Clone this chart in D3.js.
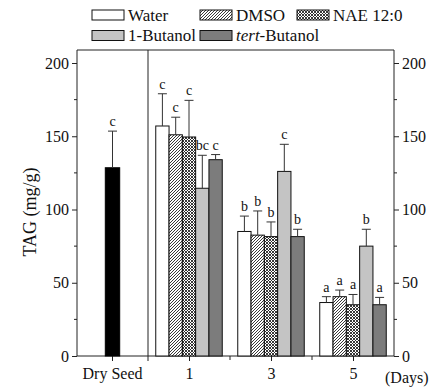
<!DOCTYPE html>
<html><head><meta charset="utf-8">
<script src="https://cdn.jsdelivr.net/npm/d3@7"></script>
<style>body{margin:0;background:#fff}svg{display:block}svg text{font-family:'Liberation Serif','Times New Roman','DejaVu Serif',serif !important;fill:#111}</style>
</head><body><svg id="c" width="442" height="392" font-family="Liberation Serif, Times New Roman, serif"></svg>
<script>
const days = [1, 3, 5];
const series = ["Water", "DMSO", "NAE 12:0", "1-Butanol", "tert-Butanol"];
const waterVals = [157, 85, 36.5];
const waterErr = [22, 10.5, 4];
const dmsoVals = [151, 82.5, 40.5];
const dmsoErr = [12, 16.5, 4.5];
const naeVals = [149.5, 81.5, 35];
const naeErr = [25, 10, 7];
const butanolVals = [114.5, 126, 75];
const butanolErr = [22.5, 18.5, 11.5];
const tertVals = [134, 81.5, 35];
const tertErr = [3.5, 5, 5];
const letters = [["c","b","a"],["c","b","a"],["c","b","a"],["bc","c","b"],["c","b","a"]];
const dryLabel = "Dry Seed", dryVal = 128.5, dryErr = 25, dryLetter = "c";
const yTicks = [0, 50, 100, 150, 200];
const yMinor = [25, 75, 125, 175];
const dayMinor = [2, 4];

const vals = [waterVals, dmsoVals, naeVals, butanolVals, tertVals];
const errs = [waterErr, dmsoErr, naeErr, butanolErr, tertErr];
const fills = ["#ffffff", "url(#hatch)", "url(#cross)", "#c4c4c4", "#7c7c7c"];
const FONT = "'Liberation Serif','Times New Roman','DejaVu Serif',serif";

const svg = d3.select("#c");
const L = 77, R = 394, T = 50, B = 356, SEP = 148;
const y = d3.scaleLinear().domain([0, 200]).range([B, 63]);
const xd = d3.scaleLinear().domain([0, 6]).range([SEP, R]);
const xl = d3.scaleBand().domain([dryLabel]).range([L, SEP]).paddingInner(0);
const bw = 13.3;
const xs = d3.scaleBand().domain(series).range([-2.5 * bw, 2.5 * bw]).paddingInner(0);

const defs = svg.append("defs");
const h = defs.append("pattern").attr("id", "hatch").attr("patternUnits", "userSpaceOnUse").attr("width", 3).attr("height", 3);
h.append("rect").attr("width", 3).attr("height", 3).attr("fill", "#fff");
h.append("path").attr("d", "M-1,1 L1,-1 M0,3 L3,0 M2,4 L4,2").attr("stroke", "#222").attr("stroke-width", 0.9);
const c = defs.append("pattern").attr("id", "cross").attr("patternUnits", "userSpaceOnUse").attr("width", 3).attr("height", 3);
c.append("rect").attr("width", 3).attr("height", 3).attr("fill", "#fff");
c.append("path").attr("d", "M0,0 L3,3 M3,0 L0,3").attr("stroke", "#222").attr("stroke-width", 0.9);

const ink = "#222";
svg.append("line").attr("x1", L).attr("x2", R).attr("y1", T).attr("y2", T).attr("stroke", ink);
svg.append("line").attr("x1", SEP).attr("x2", SEP).attr("y1", T).attr("y2", B).attr("stroke", ink);

const gl = svg.append("g").attr("transform", `translate(${L},0)`)
  .call(d3.axisLeft(y).tickValues(yTicks).tickSize(5).tickSizeOuter(0).tickPadding(3));
gl.selectAll(".domain").attr("d", `M0,${B}V${T}`);
gl.append("g").selectAll("line").data(yMinor).join("line").attr("x1", -3).attr("x2", 0).attr("y1", d => y(d)).attr("y2", d => y(d)).attr("stroke", ink);
const gr = svg.append("g").attr("transform", `translate(${R},0)`)
  .call(d3.axisRight(y).tickValues(yTicks).tickSize(5).tickSizeOuter(0).tickPadding(3));
gr.selectAll(".domain").attr("d", `M0,${B}V${T}`);
gr.append("g").selectAll("line").data(yMinor).join("line").attr("x1", 0).attr("x2", 3).attr("y1", d => y(d)).attr("y2", d => y(d)).attr("stroke", ink);

svg.append("line").attr("x1", L).attr("x2", R).attr("y1", B).attr("y2", B).attr("stroke", ink);
const gb = svg.append("g").attr("transform", `translate(0,${B})`)
  .call(d3.axisBottom(xd).tickValues(days).tickFormat(d3.format("d")).tickSize(5).tickSizeOuter(0).tickPadding(7));
gb.select(".domain").remove();
gb.append("g").selectAll("line").data(dayMinor).join("line").attr("x1", d => xd(d)).attr("x2", d => xd(d)).attr("y1", 0).attr("y2", 4).attr("stroke", ink);
const gd = svg.append("g").attr("transform", `translate(0,${B})`)
  .call(d3.axisBottom(xl).tickSize(5).tickSizeOuter(0).tickPadding(7));
gd.select(".domain").remove();
svg.append("line").attr("x1", SEP).attr("x2", SEP).attr("y1", B).attr("y2", B + 5).attr("stroke", ink);
[gl, gr, gb, gd].forEach(g => {
  g.attr("font-family", FONT).attr("font-size", 16);
  g.selectAll("text").attr("fill", "#111");
  g.selectAll("path,line").attr("stroke", ink);
});
svg.append("text").attr("x", xd(5) + 32).attr("y", B + 27).attr("font-size", 16).text("(Days)");

svg.append("text").attr("transform", `translate(36,${(T + B) / 2 + 9}) rotate(-90)`).attr("text-anchor", "middle")
  .attr("font-size", 18).text("TAG (mg/g)");

function errBar(cx, v, e, lab) {
  svg.append("line").attr("x1", cx).attr("x2", cx).attr("y1", y(v)).attr("y2", y(v + e)).attr("stroke", "#333");
  svg.append("line").attr("x1", cx - 4.5).attr("x2", cx + 4.5).attr("y1", y(v + e)).attr("y2", y(v + e)).attr("stroke", "#333");
  svg.append("text").attr("x", cx).attr("y", y(v + e) - 5).attr("text-anchor", "middle").attr("font-size", 14).text(lab);
}

const dcx = xl(dryLabel) + xl.bandwidth() / 2;
svg.append("rect").attr("x", dcx - 7.2).attr("width", 14.4).attr("y", y(dryVal)).attr("height", y(0) - y(dryVal)).attr("fill", "#000").attr("stroke", "#000");
errBar(dcx, dryVal, dryErr, dryLetter);

series.forEach((s, si) => {
  days.forEach((d, di) => {
    const x0 = xd(d) + xs(s);
    const v = vals[si][di];
    svg.append("rect").attr("x", x0).attr("width", xs.bandwidth()).attr("y", y(v)).attr("height", y(0) - y(v))
      .attr("fill", fills[si]).attr("stroke", "#111").attr("stroke-width", 1);
  });
});
series.forEach((s, si) => {
  days.forEach((d, di) => {
    errBar(xd(d) + xs(s) + xs.bandwidth() / 2, vals[si][di], errs[si][di], letters[si][di]);
  });
});

const legPos = [[92, 10], [200, 10], [297, 10], [92, 30.5], [200, 30.5]];
series.forEach((s, i) => {
  const [lx, ly] = legPos[i];
  svg.append("rect").attr("x", lx).attr("y", ly).attr("width", 32).attr("height", 10).attr("fill", fills[i]).attr("stroke", "#111");
  const t = svg.append("text").attr("x", lx + 36).attr("y", ly + 10.5).attr("font-size", 17);
  if (s.startsWith("tert")) {
    t.append("tspan").attr("font-style", "italic").text("tert");
    t.append("tspan").text(s.slice(4));
  } else t.text(s);
});
</script></body></html>
